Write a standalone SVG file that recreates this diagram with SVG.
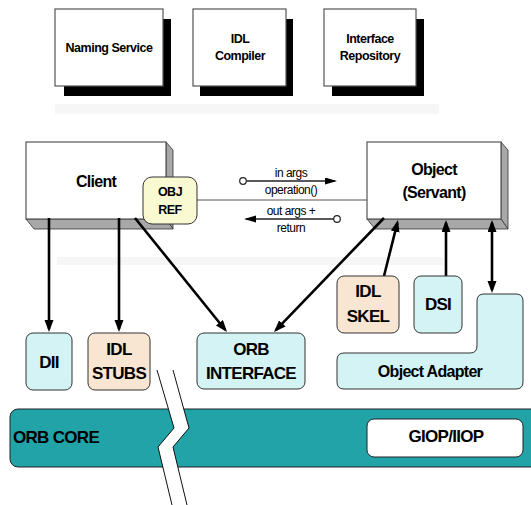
<svg xmlns="http://www.w3.org/2000/svg" width="531" height="505" viewBox="0 0 531 505">
<style>
  text { font-family: "Liberation Sans", Arial, sans-serif; font-weight: bold; fill: #000; text-anchor: middle; }
  .t12 { font-size: 12.5px; letter-spacing: -0.5px; }
  .t15 { font-size: 16px; letter-spacing: -0.7px; }
  .t16 { font-size: 17px; letter-spacing: -0.7px; }
  .lbl { font-size: 12px; font-weight: normal; letter-spacing: -0.5px; }
  .box { fill: #fff; stroke: #555; stroke-width: 1.2; }
  .shadow { fill: #000; }
  .side { fill: #a8a8a8; stroke: #333; stroke-width: 0.8; }
  .cyan { fill: #d3f3f4; stroke: #333; stroke-width: 1; }
  .tan { fill: #f8e6d3; stroke: #333; stroke-width: 1; }
  .band { fill: #f6f6f6; }
  .arrow { stroke: #000; stroke-width: 2.6; fill: none; }
  .thin { stroke: #222; stroke-width: 1.3; fill: none; }
</style>
<defs>
  <marker id="ah" markerUnits="userSpaceOnUse" markerWidth="13" markerHeight="10" refX="9" refY="4.5" orient="auto-start-reverse">
    <path d="M0,0 L12,4.5 L0,9 z" fill="#000"/>
  </marker>
  <marker id="sh" markerUnits="userSpaceOnUse" markerWidth="13" markerHeight="8" refX="10" refY="3.5" orient="auto">
    <path d="M0,0 L12,3.5 L0,7 z" fill="#000"/>
  </marker>
</defs>

<!-- background bands -->
<rect class="band" x="55" y="104" width="384" height="10"/>
<rect class="band" x="57" y="257" width="386" height="8"/>

<g id="naming-service">
  <rect class="shadow" x="64" y="19" width="107" height="77"/>
  <rect class="box" x="55" y="9" width="108" height="77"/>
  <text class="t12" x="109" y="52">Naming Service</text>
</g>
<g id="idl-compiler">
  <rect class="shadow" x="200" y="19" width="93" height="77"/>
  <rect class="box" x="193" y="9" width="93" height="77"/>
  <text class="t12" x="240" y="43">IDL</text>
  <text class="t12" x="240" y="60">Compiler</text>
</g>
<g id="interface-repository">
  <rect class="shadow" x="332" y="19" width="92" height="77"/>
  <rect class="box" x="324" y="9" width="92" height="77"/>
  <text class="t12" x="370" y="43">Interface</text>
  <text class="t12" x="370" y="60">Repository</text>
</g>

<g id="client">
  <polygon class="side" points="166,142 173,150 173,229 166,219"/>
  <polygon class="side" points="26,219 166,219 173,229 34,229"/>
  <rect class="box" x="26" y="142" width="140" height="77" stroke="#333"/>
  <text class="t15" x="96" y="187">Client</text>
</g>

<g id="object">
  <polygon class="side" points="501,142 508,150 508,229 501,219"/>
  <polygon class="side" points="367,219 501,219 508,229 375,229"/>
  <rect class="box" x="367" y="142" width="134" height="77" stroke="#333"/>
  <text class="t15" x="434" y="175">Object</text>
  <text class="t15" x="434" y="198">(Servant)</text>
</g>

<g id="connectors">
  <line x1="197" y1="200" x2="367" y2="200" stroke="#555" stroke-width="1"/>
  <line class="thin" x1="246.3" y1="181" x2="335" y2="181" marker-end="url(#sh)"/>
  <line class="thin" x1="333.7" y1="219" x2="246" y2="219" marker-end="url(#sh)"/>
  <line class="arrow" x1="49" y1="218" x2="49" y2="329" marker-end="url(#ah)"/>
  <line class="arrow" x1="119" y1="218" x2="119" y2="329" marker-end="url(#ah)"/>
  <line class="arrow" x1="135" y1="218" x2="225.1" y2="329.7" marker-end="url(#ah)"/>
  <line class="arrow" x1="384" y1="218" x2="276.1" y2="329.8" marker-end="url(#ah)"/>
  <line class="arrow" x1="384" y1="276" x2="397.3" y2="222.9" marker-end="url(#ah)"/>
  <line class="arrow" x1="446" y1="276" x2="446" y2="223" marker-end="url(#ah)"/>
  <line class="arrow" x1="492" y1="223" x2="492" y2="290" marker-start="url(#ah)" marker-end="url(#ah)"/>
</g>

<g id="arg-labels">
  <circle cx="243" cy="181" r="3.3" fill="#fff" stroke="#222" stroke-width="1.2"/>
  <circle cx="337" cy="219" r="3.3" fill="#fff" stroke="#222" stroke-width="1.2"/>
  <text class="lbl" x="291" y="177">in args</text>
  <text class="lbl" x="291" y="194">operation()</text>
  <text class="lbl" x="291" y="215">out args +</text>
  <text class="lbl" x="291" y="232">return</text>
</g>

<g id="obj-ref">
  <rect x="143" y="177" width="54" height="47" rx="9" fill="#fafad2" stroke="#333" stroke-width="1"/>
  <text class="t12" x="170" y="196">OBJ</text>
  <text class="t12" x="170" y="214">REF</text>
</g>

<g id="dii">
  <rect class="cyan" x="26" y="333" width="46" height="57" rx="7"/>
  <text class="t16" x="49" y="368">DII</text>
</g>
<g id="idl-stubs">
  <rect class="tan" x="88" y="333" width="62" height="57" rx="7"/>
  <text class="t16" x="119" y="355">IDL</text>
  <text class="t16" x="119" y="379">STUBS</text>
</g>
<g id="orb-interface">
  <rect class="cyan" x="197" y="333" width="108" height="56" rx="7"/>
  <text class="t16" x="251" y="355">ORB</text>
  <text class="t16" x="251" y="379">INTERFACE</text>
</g>
<g id="idl-skel">
  <rect class="tan" x="337" y="276" width="62" height="57" rx="7"/>
  <text class="t16" x="368" y="297">IDL</text>
  <text class="t16" x="368" y="322">SKEL</text>
</g>
<g id="dsi">
  <rect class="cyan" x="414" y="276" width="48" height="57" rx="7"/>
  <text class="t16" x="438" y="310">DSI</text>
</g>
<g id="object-adapter">
  <path class="cyan" d="M484,294 H516 Q523,294 523,301 V382 Q523,389 516,389 H344 Q337,389 337,382 V360 Q337,353 344,353 H470 Q477,353 477,346 V301 Q477,294 484,294 Z"/>
  <text class="t15" x="430" y="377">Object Adapter</text>
</g>

<g id="orb-core">
  <rect x="10" y="409" width="540" height="58" rx="8" fill="#21a3a8" stroke="#222" stroke-width="1"/>
  <text class="t16" x="13" y="443" style="text-anchor:start">ORB CORE</text>
</g>
<g id="giop-iiop">
  <rect x="367" y="419" width="156" height="38" rx="7" fill="#fff" stroke="#222" stroke-width="1"/>
  <text class="t16" x="446" y="442">GIOP/IIOP</text>
</g>

<g id="break">
  <polygon points="157,370 174,428 158,447 172,505 187,505 173,447 189,428 173,370" fill="#fff"/>
  <polyline points="157,370 174,428 158,447 172,505" fill="none" stroke="#111" stroke-width="1"/>
  <polyline points="173,370 189,428 173,447 187,505" fill="none" stroke="#111" stroke-width="1"/>
</g>
</svg>
